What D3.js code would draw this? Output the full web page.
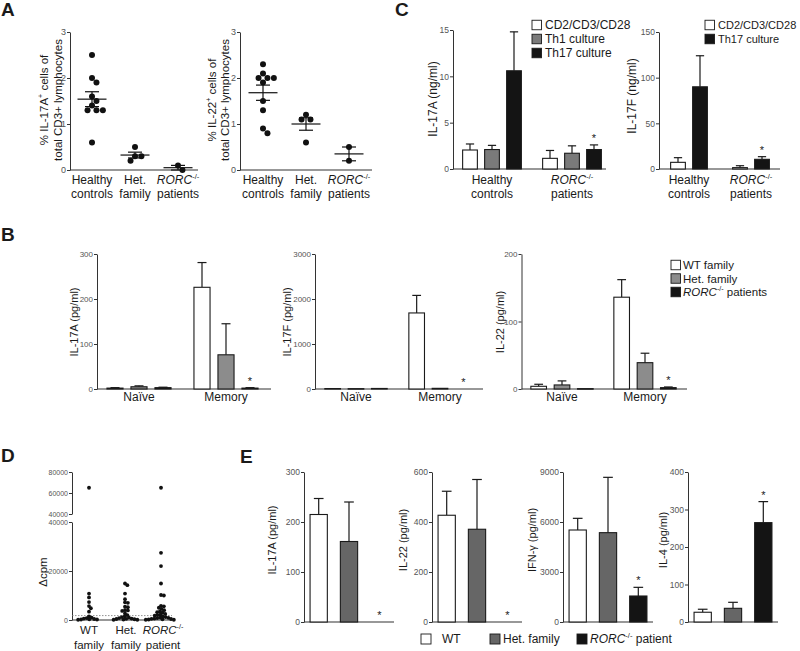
<!DOCTYPE html>
<html><head><meta charset="utf-8">
<script src="https://cdn.jsdelivr.net/npm/d3@7"></script>
<style>body{margin:0;background:#fff} svg{font-family:'Liberation Sans',Arial,Helvetica,sans-serif}</style>
</head><body><svg id="c" width="800" height="651"></svg>
<script>
// ---------------- DATA ----------------
// Panel A
const aGroups = ["Healthy controls", "Het. family", "RORC patients"];
const aGroupLabels = [["Healthy", "controls"], ["Het.", "family"], ["_RORC_^-/-^", "patients"]];
const aIL17AHealthy = [2.5, 2.0, 1.9, 1.6, 1.5, 1.4, 1.3, 1.3, 1.3, 0.6];
const aIL17AHet = [0.5, 0.3, 0.3, 0.2];
const aIL17ARorc = [0.1, 0.0];
const aIL22Healthy = [2.3, 2.1, 2.0, 2.0, 2.0, 1.9, 1.5, 1.3, 0.9, 0.8];
const aIL22Het = [1.2, 1.1, 1.1, 0.6];
const aIL22Rorc = [0.5, 0.2];
const aTicks = [0, 1, 2, 3];

// Panel B
const bGroups = ["Naïve", "Memory"];
const bSeries = ["WT family", "Het. family", "_RORC_^-/-^ patients"];
const bIL17A = [[2, 5, 3], [226, 76, 2]];
const bIL17AErr = [[3, 7, 4], [281, 145, 3]];
const bIL17AStar = [[0, 0, 0], [0, 0, 1]];
const bIL17F = [[10, 8, 12], [1690, 15, 0]];
const bIL17FErr = [[10, 8, 12], [2080, 15, 0]];
const bIL17FStar = [[0, 0, 0], [0, 0, 1]];
const bIL22 = [[4, 6, 0.5], [136, 39, 2]];
const bIL22Err = [[7, 12, 0.5], [162, 53, 3]];
const bIL22Star = [[0, 0, 0], [0, 0, 1]];
const bTicks17A = [0, 100, 200, 300];
const bTicks17F = [0, 1000, 2000, 3000];
const bTicks22 = [0, 100, 200];

// Panel C
const cGroups = ["Healthy controls", "RORC patients"];
const cGroupLabels = [["Healthy", "controls"], ["_RORC_^-/-^", "patients"]];
const cSeries17A = ["CD2/CD3/CD28", "Th1 culture", "Th17 culture"];
const cIL17A = [[2.05, 2.1, 10.6], [1.15, 1.7, 2.1]];
const cIL17AErr = [[2.7, 2.55, 14.8], [2.0, 2.5, 2.6]];
const cIL17AStar = [[0, 0, 0], [0, 0, 1]];
const cSeries17F = ["CD2/CD3/CD28", "Th17 culture"];
const cIL17F = [[7.3, 90], [1.5, 10.6]];
const cIL17FErr = [[12.4, 124], [3.6, 13.5]];
const cIL17FStar = [[0, 0], [0, 1]];
const cTicks17A = [0, 5, 10, 15];
const cTicks17F = [0, 50, 100, 150];

// Panel D
const dGroups = ["WT family", "Het. family", "RORC patient"];
const dGroupLabels = [["WT", "family"], ["Het.", "family"], ["_RORC_^-/-^", "patient"]];
const dWT = [65000, 10800, 9200, 7300, 5700, 4800, 3400, 1500, 1000, 800, 600, 400, 300, 200, 200, 100];
const dHet = [14900, 14200, 10800, 8500, 7200, 7000, 5400, 5200, 4000, 3900, 3700, 2700, 2000, 1500, 1200, 1000, 800, 600, 500, 400, 300, 200, 100, 100];
const dRorc = [65000, 27400, 22000, 14900, 10200, 10000, 5800, 5600, 5000, 4500, 4000, 3500, 3200, 3000, 2500, 2200, 2000, 1800, 1500, 1200, 1000, 900, 800, 600, 500, 400, 300, 200, 100, 100];
const dCutoff = 1800;
const dTicksLow = [0, 20000, 40000];
const dTicksHigh = [40000, 60000, 80000];

// Panel E
const eSeries = ["WT", "Het. family", "_RORC_^-/-^ patient"];
const eIL17A = [215, 161, 0];
const eIL17AErr = [247, 240, 0];
const eIL22 = [427, 371, 0];
const eIL22Err = [523, 570, 0];
const eIFNg = [5520, 5360, 1560];
const eIFNgErr = [6220, 8680, 2080];
const eIL4 = [26, 36.5, 265];
const eIL4Err = [34, 52.5, 321];
const eStar = [0, 0, 1];
const eTicks17A = [0, 100, 200, 300];
const eTicks22 = [0, 200, 400, 600];
const eTicksIFN = [0, 3000, 6000, 9000];
const eTicks4 = [0, 100, 200, 300, 400];

// ---------------- STYLE ----------------
const INK = "#1a1a1a", AX = "#333", TICK = "#555";
const bColors = ["#ffffff", "#8c8c8c", "#141414"];
const cColors17A = ["#ffffff", "#7a7a7a", "#141414"];
const cColors17F = ["#ffffff", "#141414"];
const eColors = ["#ffffff", "#666666", "#141414"];

const svg = d3.select("#c");

function parse(s) {
  return s.split(/(_[^_]+_|\^[^^]+\^)/).filter(x => x).map(x =>
    x[0] === "_" ? {t: x.slice(1, -1), i: true} : x[0] === "^" ? {t: x.slice(1, -1), sup: true} : {t: x});
}
function rich(t, s, size) {
  let shift = 0;
  for (const p of parse(s)) {
    const ts = t.append("tspan").text(p.t);
    const target = p.sup ? -size * 0.42 : 0;
    if (target !== shift) { ts.attr("dy", target - shift); shift = target; }
    if (p.sup) ts.attr("font-size", size * 0.62);
    if (p.i) ts.attr("font-style", "italic");
  }
}
function text(x, y, s, size, anchor = "middle", opts = {}) {
  const t = svg.append("text").attr("font-size", size).attr("fill", opts.fill || INK).attr("text-anchor", anchor);
  if (opts.rotate) t.attr("transform", `translate(${x + size * 0.35},${y}) rotate(-90)`);
  else t.attr("x", x).attr("y", y);
  if (opts.bold) t.attr("font-weight", "bold");
  rich(t, s, size);
  return t;
}
function leftAxis(y, x, ticks, fs = 8.5) {
  const g = svg.append("g").attr("transform", `translate(${x},0)`)
    .call(d3.axisLeft(y).tickValues(ticks).tickSize(3).tickSizeOuter(0).tickFormat(d3.format("d")));
  g.attr("font-family", null).attr("font-size", null);
  g.select(".domain").attr("stroke", AX).attr("stroke-width", 1);
  g.selectAll(".tick line").attr("stroke", AX);
  g.selectAll(".tick text").attr("font-size", fs).attr("fill", TICK).attr("x", -4);
  return g;
}
function baseline(x0, x1, y) {
  svg.append("line").attr("x1", x0).attr("x2", x1).attr("y1", y).attr("y2", y).attr("stroke", AX).attr("stroke-width", 1.2);
}
function swarm(values, y, r) {
  const pts = values.map(v => ({v, y: y(v), x: 0})).sort((a, b) => a.y - b.y);
  const placed = [];
  for (const p of pts) {
    const cands = [0];
    for (const q of placed) {
      const dy = Math.abs(p.y - q.y);
      if (dy < 2 * r) { const dx = Math.sqrt(4 * r * r - dy * dy); cands.push(q.x + dx + 0.01, q.x - dx - 0.01); }
    }
    cands.sort((a, b) => Math.abs(a) - Math.abs(b));
    for (const c of cands) {
      if (placed.every(q => (q.x - c) ** 2 + (q.y - p.y) ** 2 >= 4 * r * r - 0.01)) { p.x = c; break; }
    }
    placed.push(p);
  }
  return pts;
}

// ---------------- PANEL A ----------------
function dotPlot(cfg) {
  const y = d3.scaleLinear().domain([0, 3]).range([170, 32]);
  leftAxis(y, cfg.axisX, aTicks, 9);
  baseline(cfg.axisX, cfg.endX, y(0));
  const x = d3.scalePoint().domain(aGroups).range(cfg.range);
  cfg.data.forEach((vals, gi) => {
    const cx = x(aGroups[gi]);
    swarm(vals, y, 3.2).forEach(p => {
      svg.append("circle").attr("cx", cx + p.x).attr("cy", p.y).attr("r", 3).attr("fill", "#111");
    });
    const m = d3.mean(vals), sem = d3.deviation(vals) / Math.sqrt(vals.length);
    const ln = (x1, x2, y1, y2) => svg.append("line").attr("x1", x1).attr("x2", x2).attr("y1", y1).attr("y2", y2).attr("stroke", "#111").attr("stroke-width", 1.2);
    ln(cx - 14.5, cx + 14.5, y(m), y(m));
    ln(cx - 7, cx + 7, y(m + sem), y(m + sem));
    ln(cx - 7, cx + 7, y(m - sem), y(m - sem));
    ln(cx, cx, y(m + sem), y(m - sem));
    aGroupLabels[gi].forEach((l, li) => text(cx, 184 + li * 13.5, l, 12));
  });
  cfg.ylab.forEach((l, li) => text(cfg.labX[li], 100, l, 11.5, "middle", {rotate: true}));
}
text(1, 16, "A", 19, "start", {bold: true});
dotPlot({axisX: 70, endX: 198, range: [92, 178], data: [aIL17AHealthy, aIL17AHet, aIL17ARorc],
  ylab: ["% IL-17A^+^ cells of", "total CD3+ lymphocytes"], labX: [44, 58]});
dotPlot({axisX: 240, endX: 372, range: [263, 349], data: [aIL22Healthy, aIL22Het, aIL22Rorc],
  ylab: ["% IL-22^+^ cells of", "total CD3+ lymphocytes"], labX: [212, 225]});

// ---------------- BAR CHART HELPER ----------------
function bars(cfg) {
  const y = d3.scaleLinear().domain(cfg.yDomain).range(cfg.yRange);
  leftAxis(y, cfg.axisX, cfg.ticks, cfg.tickFs || 8.5);
  baseline(cfg.axisX, cfg.endX, y(0));
  const x0 = d3.scalePoint().domain(cfg.groups).range(cfg.groupRange);
  const x1 = d3.scaleBand().domain(cfg.series).range([-cfg.inner / 2, cfg.inner / 2])
    .paddingInner(cfg.pad).paddingOuter(cfg.padOuter !== undefined ? cfg.padOuter : cfg.pad / 2);
  const bw = x1.bandwidth();
  cfg.groups.forEach((g, gi) => {
    cfg.series.forEach((s, si) => {
      const v = cfg.values[gi][si], e = cfg.errors[gi][si];
      const xl = x0(g) + x1(s), xc = xl + bw / 2;
      if (e > v) {
        svg.append("line").attr("x1", xc).attr("x2", xc).attr("y1", y(v)).attr("y2", y(e)).attr("stroke", INK).attr("stroke-width", 1.2);
        svg.append("line").attr("x1", xc - bw * 0.28).attr("x2", xc + bw * 0.28).attr("y1", y(e)).attr("y2", y(e)).attr("stroke", INK).attr("stroke-width", 1.2);
      }
      if (v > 0) {
        svg.append("rect").attr("x", xl).attr("y", y(v)).attr("width", bw).attr("height", Math.max(0.5, y(0) - y(v)))
          .attr("fill", cfg.colors[si]).attr("stroke", INK).attr("stroke-width", 1.1);
      }
      if (cfg.stars && cfg.stars[gi][si]) {
        svg.append("text").attr("x", xc).attr("y", y(Math.max(v, e)) - 3).attr("text-anchor", "middle")
          .attr("font-size", 11).attr("fill", INK).text("*");
      }
    });
    if (cfg.groupLabels) cfg.groupLabels[gi].forEach((l, li) => text(x0(g), cfg.labY + li * 13.5, l, 12));
  });
  text(cfg.ylabX, cfg.ylabY, cfg.ylab, cfg.ylabFs || 11, "middle", {rotate: true});
}
function legend(items, colors, x, yc, dy, fs, box = 9.5, tx = 12) {
  items.forEach((s, i) => {
    svg.append("rect").attr("x", x).attr("y", yc + i * dy - box / 2).attr("width", box).attr("height", box)
      .attr("fill", colors[i]).attr("stroke", INK).attr("stroke-width", 0.9);
    text(x + tx, yc + i * dy + fs * 0.36, s, fs, "start");
  });
}

// ---------------- PANEL B ----------------
text(1, 241, "B", 19, "start", {bold: true});
const bGL = bGroups.map(g => [g]);
bars({yDomain: [0, 300], yRange: [389, 254], axisX: 97, endX: 271, ticks: bTicks17A, tickFs: 8,
  groups: bGroups, groupRange: [139, 226], series: bSeries, inner: 72, pad: 0.33, values: bIL17A, errors: bIL17AErr,
  stars: bIL17AStar, colors: bColors, groupLabels: bGL, labY: 401, ylab: "IL-17A (pg/ml)", ylabX: 74, ylabY: 322});
bars({yDomain: [0, 3000], yRange: [389, 254], axisX: 315, endX: 483, ticks: bTicks17F, tickFs: 8,
  groups: bGroups, groupRange: [356, 440], series: bSeries, inner: 70, pad: 0.33, values: bIL17F, errors: bIL17FErr,
  stars: bIL17FStar, colors: bColors, groupLabels: bGL, labY: 401, ylab: "IL-17F (pg/ml)", ylabX: 287, ylabY: 322});
bars({yDomain: [0, 200], yRange: [389, 254], axisX: 521.5, endX: 687, ticks: bTicks22, tickFs: 8,
  groups: bGroups, groupRange: [562, 645], series: bSeries, inner: 70, pad: 0.33, values: bIL22, errors: bIL22Err,
  stars: bIL22Star, colors: bColors, groupLabels: bGL, labY: 401, ylab: "IL-22 (pg/ml)", ylabX: 500, ylabY: 322});
legend(bSeries, bColors, 671, 265, 13.5, 11.5);

// ---------------- PANEL C ----------------
text(395, 16, "C", 19, "start", {bold: true});
bars({yDomain: [0, 15], yRange: [169, 30], axisX: 453, endX: 606, ticks: cTicks17A,
  groups: cGroups, groupRange: [492, 572], series: cSeries17A, inner: 66, pad: 0.33, values: cIL17A, errors: cIL17AErr,
  stars: cIL17AStar, colors: cColors17A, groupLabels: cGroupLabels, labY: 184, ylab: "IL-17A (ng/ml)", ylabX: 433, ylabY: 99, ylabFs: 12});
legend(cSeries17A, cColors17A, 532, 25, 14, 12, 9.5, 13);
bars({yDomain: [0, 150], yRange: [169, 32], axisX: 659, endX: 780, ticks: cTicks17F,
  groups: cGroups, groupRange: [689, 751], series: cSeries17F, inner: 44, pad: 0.33, values: cIL17F, errors: cIL17FErr,
  stars: cIL17FStar, colors: cColors17F, groupLabels: cGroupLabels, labY: 184, ylab: "IL-17F (ng/ml)", ylabX: 632, ylabY: 96, ylabFs: 12});
legend(cSeries17F, cColors17F, 705, 25, 14, 11, 9.5, 13);

// ---------------- PANEL D ----------------
text(1, 462, "D", 19, "start", {bold: true});
{
  const yLow = d3.scaleLinear().domain([0, 40000]).range([620, 522]);
  const yHigh = d3.scaleLinear().domain([40000, 80000]).range([514, 472]);
  const yD = v => v <= 40000 ? yLow(v) : yHigh(v);
  leftAxis(yLow, 72, dTicksLow, 7);
  leftAxis(yHigh, 72, dTicksHigh, 7);
  svg.append("line").attr("x1", 72).attr("x2", 172).attr("y1", yLow(dCutoff)).attr("y2", yLow(dCutoff))
    .attr("stroke", "#777").attr("stroke-width", 0.8).attr("stroke-dasharray", "1.5,1.5");
  baseline(72, 172, yLow(0));
  const x = d3.scalePoint().domain(dGroups).range([89, 161]);
  const xl = d3.scalePoint().domain(dGroups).range([89, 163]);
  [dWT, dHet, dRorc].forEach((vals, gi) => {
    const cx = x(dGroups[gi]);
    swarm(vals, yD, 1.45).forEach(p => svg.append("circle").attr("cx", cx + p.x).attr("cy", p.y).attr("r", 1.9).attr("fill", "#111"));
    dGroupLabels[gi].forEach((l, li) => text(xl(dGroups[gi]), 634 + li * 15, l, 11.5));
  });
  text(43, 572, "Δcpm", 11.5, "middle", {rotate: true});
}

// ---------------- PANEL E ----------------
text(240, 463, "E", 19, "start", {bold: true});
const eG = ["all"];
const eCfg = (axisX, dom, ticks, vals, errs, ylab, ylabX) => bars({yDomain: dom, yRange: [622, 472], axisX, endX: axisX + 90, ticks,
  groups: eG, groupRange: [axisX + 45, axisX + 45], series: eSeries, inner: 90, pad: 0.43, padOuter: 0.2,
  values: [vals], errors: [errs], stars: [eStar], colors: eColors, ylab, ylabX, ylabY: 540});
eCfg(304, [0, 300], eTicks17A, eIL17A, eIL17AErr, "IL-17A (pg/ml)", 272);
eCfg(432, [0, 600], eTicks22, eIL22, eIL22Err, "IL-22 (pg/ml)", 403);
eCfg(563, [0, 9000], eTicksIFN, eIFNg, eIFNgErr, "IFN-γ (pg/ml)", 532);
eCfg(688, [0, 400], eTicks4, eIL4, eIL4Err, "IL-4 (pg/ml)", 663);
{
  const lx = [421, 490, 577];
  eSeries.forEach((s, i) => {
    svg.append("rect").attr("x", lx[i]).attr("y", 634).attr("width", 10).attr("height", 10)
      .attr("fill", eColors[i]).attr("stroke", INK).attr("stroke-width", 0.9);
    text(lx[i] + (i === 0 ? 21 : 13), 643, s, 12, "start");
  });
}
</script></body></html>
